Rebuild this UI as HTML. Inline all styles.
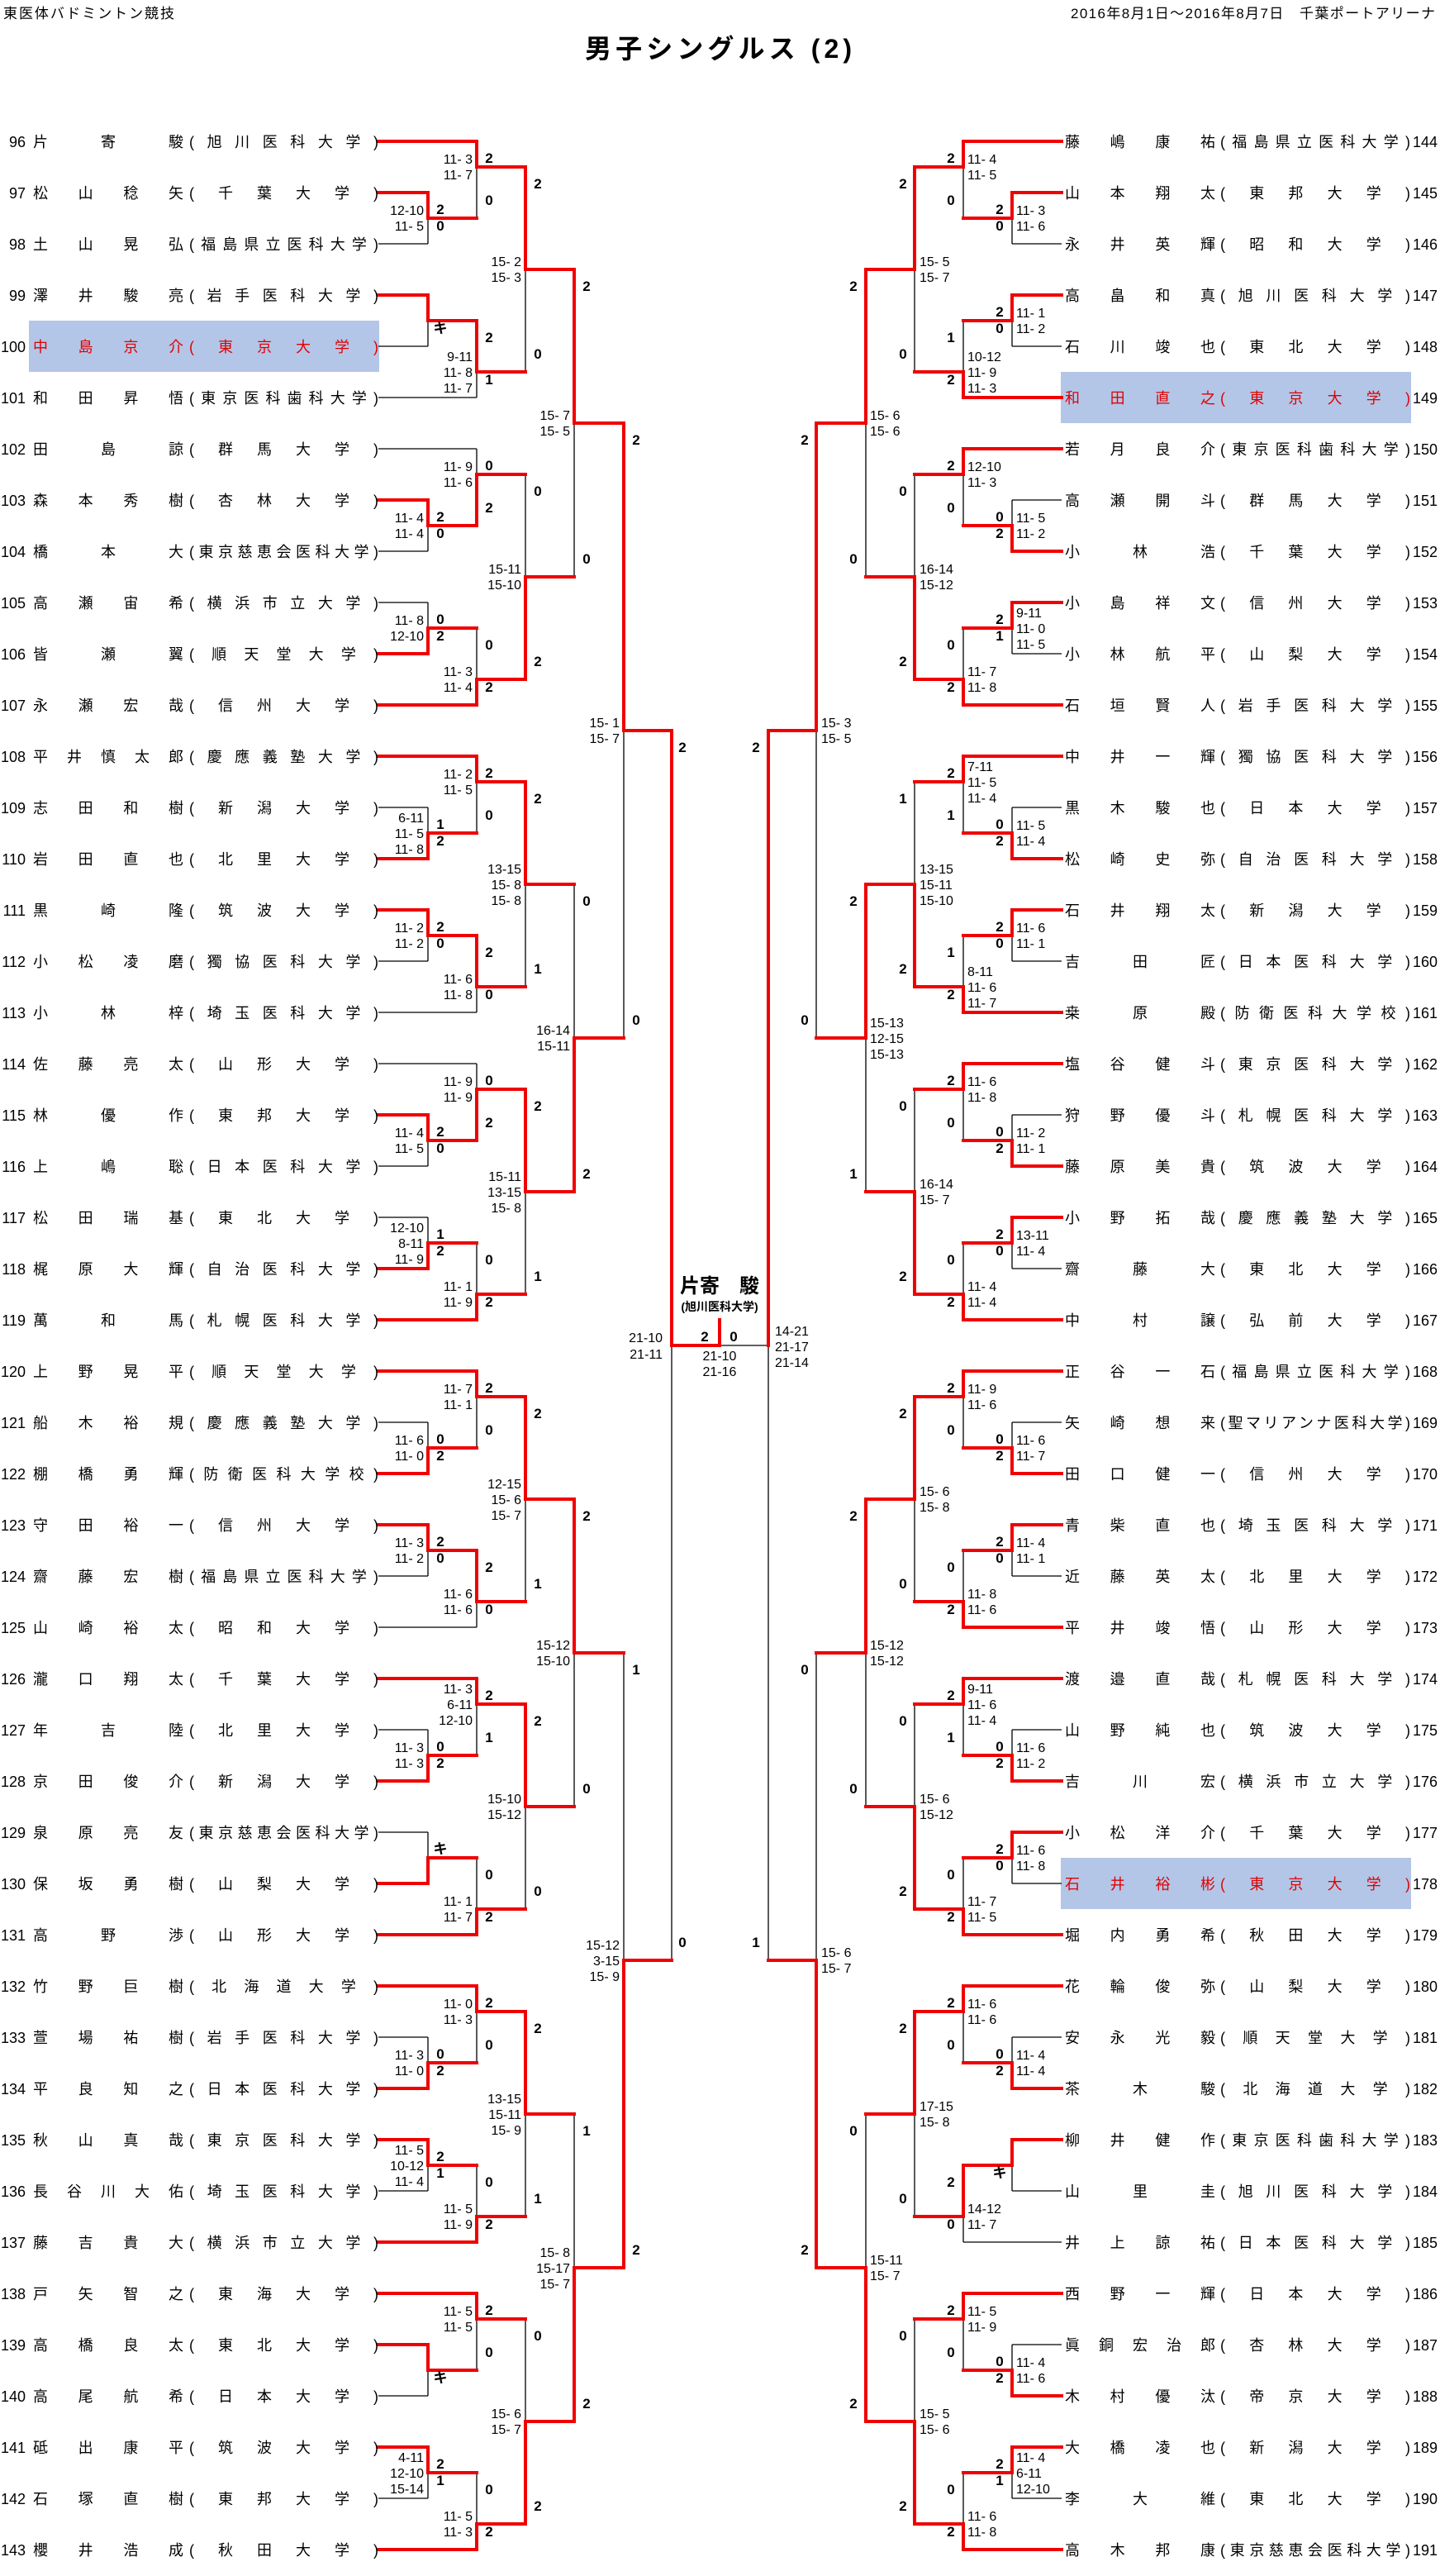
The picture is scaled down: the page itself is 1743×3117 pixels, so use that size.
<!DOCTYPE html>
<html><head><meta charset="utf-8"><style>
html,body{margin:0;padding:0;background:#fff}
svg{display:block}
.t{font-size:18px;font-family:"Liberation Sans","Noto Sans CJK JP",sans-serif;fill:#000}
.n{font-size:18px;font-family:"Liberation Sans",sans-serif;text-anchor:end}
.nr{font-size:18px;font-family:"Liberation Sans",sans-serif}
.r{fill:#e00000}
.c{font:bold 17px "Liberation Sans","Noto Sans CJK JP",sans-serif;text-anchor:middle}
.sl{font:16px "Liberation Sans",sans-serif;text-anchor:end}
.sr{font:16px "Liberation Sans",sans-serif}
.k{fill:none;stroke:#000;stroke-width:1.3}
.rd{fill:none;stroke:#f00000;stroke-width:4;stroke-linecap:square}
</style></head><body>
<svg width="1743" height="3117" viewBox="0 0 1743 3117" xmlns="http://www.w3.org/2000/svg">
<defs>
<path id="bk" d="M458 0H577M458 62H518M458 124H518M518 62V124M518 93H577M577 0V93M577 31H636M458 186H518M458 248H518M518 186V248M518 217H577M458 310H577M577 217V310M577 279H636M636 31V279M636 155H695"/>
<path id="hi" d="M695 326V698M695 1070V1442M695 1814V2186M695 2558V2930M695 512H755M695 1256H755M695 2000H755M695 2744H755M755 512V1256M755 2000V2744M755 884H813M755 2372H813M813 884V2372"/>
</defs>
<rect x="35" y="388" width="424" height="62" fill="#b4c6e7"/>
<rect x="1284" y="450" width="424" height="62" fill="#b4c6e7"/>
<rect x="1284" y="2248" width="424" height="62" fill="#b4c6e7"/>

<text x="4" y="22" class="t" style="font-size:17px" textLength="207">東医体バドミントン競技</text>
<text x="1296" y="22" class="t" style="font-size:17px" textLength="441">2016年8月1日～2016年8月7日　千葉ポートアリーナ</text>
<text x="708" y="70" class="t" style="font-size:32px;font-weight:bold" textLength="323">男子シングルス (2)</text>

<!-- black lines -->
<g class="k">
<use href="#bk" y="171"/><use href="#bk" y="543"/><use href="#bk" y="915"/><use href="#bk" y="1287"/>
<use href="#bk" y="1659"/><use href="#bk" y="2031"/><use href="#bk" y="2403"/><use href="#bk" y="2775"/>
<use href="#hi"/>
<g transform="translate(1743,0) scale(-1,1)">
<use href="#bk" y="171"/><use href="#bk" y="543"/><use href="#bk" y="915"/><use href="#bk" y="1287"/>
<use href="#bk" y="1659"/><use href="#bk" y="2031"/><use href="#bk" y="2403"/><use href="#bk" y="2775"/>
<use href="#hi"/>
</g>
<path d="M813 1628H930"/>
</g>

<!-- red lines left -->
<g class="rd">
<path transform="translate(0,171)" d="M458 62H518V93H577M458 0H577V31H636M458 186H518V217H577M577 217V279H636M636 31V155H695"/>
<path transform="translate(0,543)" d="M458 62H518V93H577M577 93V31H636M458 248H518V217H577M458 310H577V279H636M636 279V155H695"/>
<path transform="translate(0,915)" d="M458 124H518V93H577M458 0H577V31H636M458 186H518V217H577M577 217V279H636M636 31V155H695"/>
<path transform="translate(0,1287)" d="M458 62H518V93H577M577 93V31H636M458 248H518V217H577M458 310H577V279H636M636 31V155H695"/>
<path transform="translate(0,1659)" d="M458 124H518V93H577M458 0H577V31H636M458 186H518V217H577M577 217V279H636M636 31V155H695"/>
<path transform="translate(0,2031)" d="M458 124H518V93H577M458 0H577V31H636M458 248H518V217H577M458 310H577V279H636M636 31V155H695"/>
<path transform="translate(0,2403)" d="M458 124H518V93H577M458 0H577V31H636M458 186H518V217H577M458 310H577V279H636M636 31V155H695"/>
<path transform="translate(0,2775)" d="M458 62H518V93H577M458 0H577V31H636M458 186H518V217H577M458 310H577V279H636M636 279V155H695"/>
<path d="M695 326V512H755M695 1442V1256H755M695 1814V2000H755M695 2930V2744H755M755 512V884H813M755 2744V2372H813M813 884V1628H871V1597"/>
<g transform="translate(1743,0) scale(-1,1)">
<path transform="translate(0,171)" d="M458 62H518V93H577M458 0H577V31H636M458 186H518V217H577M458 310H577V279H636M636 31V155H695"/>
<path transform="translate(0,543)" d="M458 124H518V93H577M458 0H577V31H636M458 186H518V217H577M458 310H577V279H636M636 279V155H695"/>
<path transform="translate(0,915)" d="M458 124H518V93H577M458 0H577V31H636M458 186H518V217H577M458 310H577V279H636M636 279V155H695"/>
<path transform="translate(0,1287)" d="M458 124H518V93H577M458 0H577V31H636M458 186H518V217H577M458 310H577V279H636M636 279V155H695"/>
<path transform="translate(0,1659)" d="M458 124H518V93H577M458 0H577V31H636M458 186H518V217H577M458 310H577V279H636M636 31V155H695"/>
<path transform="translate(0,2031)" d="M458 124H518V93H577M458 0H577V31H636M458 186H518V217H577M458 310H577V279H636M636 279V155H695"/>
<path transform="translate(0,2403)" d="M458 124H518V93H577M458 0H577V31H636M458 186H518V217H577M577 217V279H636M636 31V155H695"/>
<path transform="translate(0,2775)" d="M458 124H518V93H577M458 0H577V31H636M458 186H518V217H577M458 310H577V279H636M636 279V155H695"/>
<path d="M695 326V512H755M695 1070V1256H755M695 1814V2000H755M695 2930V2744H755M755 512V884H813M755 2744V2372H813M813 884V1628"/>
</g>
</g>

<!-- left names -->
<g>
<text class="n" x="31" y="178">96</text><text class="t" x="40" y="178" textLength="182">片寄駿</text><text class="t" x="229" y="178" textLength="229">(旭川医科大学)</text>
<text class="n" x="31" y="240">97</text><text class="t" x="40" y="240" textLength="182">松山稔矢</text><text class="t" x="229" y="240" textLength="229">(千葉大学)</text>
<text class="n" x="31" y="302">98</text><text class="t" x="40" y="302" textLength="182">土山晃弘</text><text class="t" x="229" y="302" textLength="229">(福島県立医科大学)</text>
<text class="n" x="31" y="364">99</text><text class="t" x="40" y="364" textLength="182">澤井駿亮</text><text class="t" x="229" y="364" textLength="229">(岩手医科大学)</text>
<text class="n" x="31" y="426">100</text><text class="t r" x="40" y="426" textLength="182">中島京介</text><text class="t r" x="229" y="426" textLength="229">(東京大学)</text>
<text class="n" x="31" y="488">101</text><text class="t" x="40" y="488" textLength="182">和田昇悟</text><text class="t" x="229" y="488" textLength="229">(東京医科歯科大学)</text>
<text class="n" x="31" y="550">102</text><text class="t" x="40" y="550" textLength="182">田島諒</text><text class="t" x="229" y="550" textLength="229">(群馬大学)</text>
<text class="n" x="31" y="612">103</text><text class="t" x="40" y="612" textLength="182">森本秀樹</text><text class="t" x="229" y="612" textLength="229">(杏林大学)</text>
<text class="n" x="31" y="674">104</text><text class="t" x="40" y="674" textLength="182">橋本大</text><text class="t" x="229" y="674" textLength="229">(東京慈恵会医科大学)</text>
<text class="n" x="31" y="736">105</text><text class="t" x="40" y="736" textLength="182">高瀬宙希</text><text class="t" x="229" y="736" textLength="229">(横浜市立大学)</text>
<text class="n" x="31" y="798">106</text><text class="t" x="40" y="798" textLength="182">皆瀬翼</text><text class="t" x="229" y="798" textLength="229">(順天堂大学)</text>
<text class="n" x="31" y="860">107</text><text class="t" x="40" y="860" textLength="182">永瀬宏哉</text><text class="t" x="229" y="860" textLength="229">(信州大学)</text>
<text class="n" x="31" y="922">108</text><text class="t" x="40" y="922" textLength="182">平井慎太郎</text><text class="t" x="229" y="922" textLength="229">(慶應義塾大学)</text>
<text class="n" x="31" y="984">109</text><text class="t" x="40" y="984" textLength="182">志田和樹</text><text class="t" x="229" y="984" textLength="229">(新潟大学)</text>
<text class="n" x="31" y="1046">110</text><text class="t" x="40" y="1046" textLength="182">岩田直也</text><text class="t" x="229" y="1046" textLength="229">(北里大学)</text>
<text class="n" x="31" y="1108">111</text><text class="t" x="40" y="1108" textLength="182">黒崎隆</text><text class="t" x="229" y="1108" textLength="229">(筑波大学)</text>
<text class="n" x="31" y="1170">112</text><text class="t" x="40" y="1170" textLength="182">小松凌磨</text><text class="t" x="229" y="1170" textLength="229">(獨協医科大学)</text>
<text class="n" x="31" y="1232">113</text><text class="t" x="40" y="1232" textLength="182">小林梓</text><text class="t" x="229" y="1232" textLength="229">(埼玉医科大学)</text>
<text class="n" x="31" y="1294">114</text><text class="t" x="40" y="1294" textLength="182">佐藤亮太</text><text class="t" x="229" y="1294" textLength="229">(山形大学)</text>
<text class="n" x="31" y="1356">115</text><text class="t" x="40" y="1356" textLength="182">林優作</text><text class="t" x="229" y="1356" textLength="229">(東邦大学)</text>
<text class="n" x="31" y="1418">116</text><text class="t" x="40" y="1418" textLength="182">上嶋聡</text><text class="t" x="229" y="1418" textLength="229">(日本医科大学)</text>
<text class="n" x="31" y="1480">117</text><text class="t" x="40" y="1480" textLength="182">松田瑞基</text><text class="t" x="229" y="1480" textLength="229">(東北大学)</text>
<text class="n" x="31" y="1542">118</text><text class="t" x="40" y="1542" textLength="182">梶原大輝</text><text class="t" x="229" y="1542" textLength="229">(自治医科大学)</text>
<text class="n" x="31" y="1604">119</text><text class="t" x="40" y="1604" textLength="182">萬和馬</text><text class="t" x="229" y="1604" textLength="229">(札幌医科大学)</text>
<text class="n" x="31" y="1666">120</text><text class="t" x="40" y="1666" textLength="182">上野晃平</text><text class="t" x="229" y="1666" textLength="229">(順天堂大学)</text>
<text class="n" x="31" y="1728">121</text><text class="t" x="40" y="1728" textLength="182">船木裕規</text><text class="t" x="229" y="1728" textLength="229">(慶應義塾大学)</text>
<text class="n" x="31" y="1790">122</text><text class="t" x="40" y="1790" textLength="182">棚橋勇輝</text><text class="t" x="229" y="1790" textLength="229">(防衛医科大学校)</text>
<text class="n" x="31" y="1852">123</text><text class="t" x="40" y="1852" textLength="182">守田裕一</text><text class="t" x="229" y="1852" textLength="229">(信州大学)</text>
<text class="n" x="31" y="1914">124</text><text class="t" x="40" y="1914" textLength="182">齋藤宏樹</text><text class="t" x="229" y="1914" textLength="229">(福島県立医科大学)</text>
<text class="n" x="31" y="1976">125</text><text class="t" x="40" y="1976" textLength="182">山崎裕太</text><text class="t" x="229" y="1976" textLength="229">(昭和大学)</text>
<text class="n" x="31" y="2038">126</text><text class="t" x="40" y="2038" textLength="182">瀧口翔太</text><text class="t" x="229" y="2038" textLength="229">(千葉大学)</text>
<text class="n" x="31" y="2100">127</text><text class="t" x="40" y="2100" textLength="182">年吉陸</text><text class="t" x="229" y="2100" textLength="229">(北里大学)</text>
<text class="n" x="31" y="2162">128</text><text class="t" x="40" y="2162" textLength="182">京田俊介</text><text class="t" x="229" y="2162" textLength="229">(新潟大学)</text>
<text class="n" x="31" y="2224">129</text><text class="t" x="40" y="2224" textLength="182">泉原亮友</text><text class="t" x="229" y="2224" textLength="229">(東京慈恵会医科大学)</text>
<text class="n" x="31" y="2286">130</text><text class="t" x="40" y="2286" textLength="182">保坂勇樹</text><text class="t" x="229" y="2286" textLength="229">(山梨大学)</text>
<text class="n" x="31" y="2348">131</text><text class="t" x="40" y="2348" textLength="182">高野渉</text><text class="t" x="229" y="2348" textLength="229">(山形大学)</text>
<text class="n" x="31" y="2410">132</text><text class="t" x="40" y="2410" textLength="182">竹野巨樹</text><text class="t" x="229" y="2410" textLength="229">(北海道大学)</text>
<text class="n" x="31" y="2472">133</text><text class="t" x="40" y="2472" textLength="182">萱場祐樹</text><text class="t" x="229" y="2472" textLength="229">(岩手医科大学)</text>
<text class="n" x="31" y="2534">134</text><text class="t" x="40" y="2534" textLength="182">平良知之</text><text class="t" x="229" y="2534" textLength="229">(日本医科大学)</text>
<text class="n" x="31" y="2596">135</text><text class="t" x="40" y="2596" textLength="182">秋山真哉</text><text class="t" x="229" y="2596" textLength="229">(東京医科大学)</text>
<text class="n" x="31" y="2658">136</text><text class="t" x="40" y="2658" textLength="182">長谷川大佑</text><text class="t" x="229" y="2658" textLength="229">(埼玉医科大学)</text>
<text class="n" x="31" y="2720">137</text><text class="t" x="40" y="2720" textLength="182">藤吉貴大</text><text class="t" x="229" y="2720" textLength="229">(横浜市立大学)</text>
<text class="n" x="31" y="2782">138</text><text class="t" x="40" y="2782" textLength="182">戸矢智之</text><text class="t" x="229" y="2782" textLength="229">(東海大学)</text>
<text class="n" x="31" y="2844">139</text><text class="t" x="40" y="2844" textLength="182">高橋良太</text><text class="t" x="229" y="2844" textLength="229">(東北大学)</text>
<text class="n" x="31" y="2906">140</text><text class="t" x="40" y="2906" textLength="182">高尾航希</text><text class="t" x="229" y="2906" textLength="229">(日本大学)</text>
<text class="n" x="31" y="2968">141</text><text class="t" x="40" y="2968" textLength="182">砥出康平</text><text class="t" x="229" y="2968" textLength="229">(筑波大学)</text>
<text class="n" x="31" y="3030">142</text><text class="t" x="40" y="3030" textLength="182">石塚直樹</text><text class="t" x="229" y="3030" textLength="229">(東邦大学)</text>
<text class="n" x="31" y="3092">143</text><text class="t" x="40" y="3092" textLength="182">櫻井浩成</text><text class="t" x="229" y="3092" textLength="229">(秋田大学)</text>
</g>

<!-- right names -->
<g>
<text class="t" x="1289" y="178" textLength="182">藤嶋康祐</text><text class="t" x="1477" y="178" textLength="230">(福島県立医科大学)</text><text class="nr" x="1710" y="178">144</text>
<text class="t" x="1289" y="240" textLength="182">山本翔太</text><text class="t" x="1477" y="240" textLength="230">(東邦大学)</text><text class="nr" x="1710" y="240">145</text>
<text class="t" x="1289" y="302" textLength="182">永井英輝</text><text class="t" x="1477" y="302" textLength="230">(昭和大学)</text><text class="nr" x="1710" y="302">146</text>
<text class="t" x="1289" y="364" textLength="182">高畠和真</text><text class="t" x="1477" y="364" textLength="230">(旭川医科大学)</text><text class="nr" x="1710" y="364">147</text>
<text class="t" x="1289" y="426" textLength="182">石川竣也</text><text class="t" x="1477" y="426" textLength="230">(東北大学)</text><text class="nr" x="1710" y="426">148</text>
<text class="t r" x="1289" y="488" textLength="182">和田直之</text><text class="t r" x="1477" y="488" textLength="230">(東京大学)</text><text class="nr" x="1710" y="488">149</text>
<text class="t" x="1289" y="550" textLength="182">若月良介</text><text class="t" x="1477" y="550" textLength="230">(東京医科歯科大学)</text><text class="nr" x="1710" y="550">150</text>
<text class="t" x="1289" y="612" textLength="182">高瀬開斗</text><text class="t" x="1477" y="612" textLength="230">(群馬大学)</text><text class="nr" x="1710" y="612">151</text>
<text class="t" x="1289" y="674" textLength="182">小林浩</text><text class="t" x="1477" y="674" textLength="230">(千葉大学)</text><text class="nr" x="1710" y="674">152</text>
<text class="t" x="1289" y="736" textLength="182">小島祥文</text><text class="t" x="1477" y="736" textLength="230">(信州大学)</text><text class="nr" x="1710" y="736">153</text>
<text class="t" x="1289" y="798" textLength="182">小林航平</text><text class="t" x="1477" y="798" textLength="230">(山梨大学)</text><text class="nr" x="1710" y="798">154</text>
<text class="t" x="1289" y="860" textLength="182">石垣賢人</text><text class="t" x="1477" y="860" textLength="230">(岩手医科大学)</text><text class="nr" x="1710" y="860">155</text>
<text class="t" x="1289" y="922" textLength="182">中井一輝</text><text class="t" x="1477" y="922" textLength="230">(獨協医科大学)</text><text class="nr" x="1710" y="922">156</text>
<text class="t" x="1289" y="984" textLength="182">黒木駿也</text><text class="t" x="1477" y="984" textLength="230">(日本大学)</text><text class="nr" x="1710" y="984">157</text>
<text class="t" x="1289" y="1046" textLength="182">松崎史弥</text><text class="t" x="1477" y="1046" textLength="230">(自治医科大学)</text><text class="nr" x="1710" y="1046">158</text>
<text class="t" x="1289" y="1108" textLength="182">石井翔太</text><text class="t" x="1477" y="1108" textLength="230">(新潟大学)</text><text class="nr" x="1710" y="1108">159</text>
<text class="t" x="1289" y="1170" textLength="182">吉田匠</text><text class="t" x="1477" y="1170" textLength="230">(日本医科大学)</text><text class="nr" x="1710" y="1170">160</text>
<text class="t" x="1289" y="1232" textLength="182">桒原殿</text><text class="t" x="1477" y="1232" textLength="230">(防衛医科大学校)</text><text class="nr" x="1710" y="1232">161</text>
<text class="t" x="1289" y="1294" textLength="182">塩谷健斗</text><text class="t" x="1477" y="1294" textLength="230">(東京医科大学)</text><text class="nr" x="1710" y="1294">162</text>
<text class="t" x="1289" y="1356" textLength="182">狩野優斗</text><text class="t" x="1477" y="1356" textLength="230">(札幌医科大学)</text><text class="nr" x="1710" y="1356">163</text>
<text class="t" x="1289" y="1418" textLength="182">藤原美貴</text><text class="t" x="1477" y="1418" textLength="230">(筑波大学)</text><text class="nr" x="1710" y="1418">164</text>
<text class="t" x="1289" y="1480" textLength="182">小野拓哉</text><text class="t" x="1477" y="1480" textLength="230">(慶應義塾大学)</text><text class="nr" x="1710" y="1480">165</text>
<text class="t" x="1289" y="1542" textLength="182">齋藤大</text><text class="t" x="1477" y="1542" textLength="230">(東北大学)</text><text class="nr" x="1710" y="1542">166</text>
<text class="t" x="1289" y="1604" textLength="182">中村譲</text><text class="t" x="1477" y="1604" textLength="230">(弘前大学)</text><text class="nr" x="1710" y="1604">167</text>
<text class="t" x="1289" y="1666" textLength="182">正谷一石</text><text class="t" x="1477" y="1666" textLength="230">(福島県立医科大学)</text><text class="nr" x="1710" y="1666">168</text>
<text class="t" x="1289" y="1728" textLength="182">矢崎想来</text><text class="t" x="1477" y="1728" textLength="230">(聖マリアンナ医科大学)</text><text class="nr" x="1710" y="1728">169</text>
<text class="t" x="1289" y="1790" textLength="182">田口健一</text><text class="t" x="1477" y="1790" textLength="230">(信州大学)</text><text class="nr" x="1710" y="1790">170</text>
<text class="t" x="1289" y="1852" textLength="182">青柴直也</text><text class="t" x="1477" y="1852" textLength="230">(埼玉医科大学)</text><text class="nr" x="1710" y="1852">171</text>
<text class="t" x="1289" y="1914" textLength="182">近藤英太</text><text class="t" x="1477" y="1914" textLength="230">(北里大学)</text><text class="nr" x="1710" y="1914">172</text>
<text class="t" x="1289" y="1976" textLength="182">平井竣悟</text><text class="t" x="1477" y="1976" textLength="230">(山形大学)</text><text class="nr" x="1710" y="1976">173</text>
<text class="t" x="1289" y="2038" textLength="182">渡邉直哉</text><text class="t" x="1477" y="2038" textLength="230">(札幌医科大学)</text><text class="nr" x="1710" y="2038">174</text>
<text class="t" x="1289" y="2100" textLength="182">山野純也</text><text class="t" x="1477" y="2100" textLength="230">(筑波大学)</text><text class="nr" x="1710" y="2100">175</text>
<text class="t" x="1289" y="2162" textLength="182">吉川宏</text><text class="t" x="1477" y="2162" textLength="230">(横浜市立大学)</text><text class="nr" x="1710" y="2162">176</text>
<text class="t" x="1289" y="2224" textLength="182">小松洋介</text><text class="t" x="1477" y="2224" textLength="230">(千葉大学)</text><text class="nr" x="1710" y="2224">177</text>
<text class="t r" x="1289" y="2286" textLength="182">石井裕彬</text><text class="t r" x="1477" y="2286" textLength="230">(東京大学)</text><text class="nr" x="1710" y="2286">178</text>
<text class="t" x="1289" y="2348" textLength="182">堀内勇希</text><text class="t" x="1477" y="2348" textLength="230">(秋田大学)</text><text class="nr" x="1710" y="2348">179</text>
<text class="t" x="1289" y="2410" textLength="182">花輪俊弥</text><text class="t" x="1477" y="2410" textLength="230">(山梨大学)</text><text class="nr" x="1710" y="2410">180</text>
<text class="t" x="1289" y="2472" textLength="182">安永光毅</text><text class="t" x="1477" y="2472" textLength="230">(順天堂大学)</text><text class="nr" x="1710" y="2472">181</text>
<text class="t" x="1289" y="2534" textLength="182">茶木駿</text><text class="t" x="1477" y="2534" textLength="230">(北海道大学)</text><text class="nr" x="1710" y="2534">182</text>
<text class="t" x="1289" y="2596" textLength="182">柳井健作</text><text class="t" x="1477" y="2596" textLength="230">(東京医科歯科大学)</text><text class="nr" x="1710" y="2596">183</text>
<text class="t" x="1289" y="2658" textLength="182">山里圭</text><text class="t" x="1477" y="2658" textLength="230">(旭川医科大学)</text><text class="nr" x="1710" y="2658">184</text>
<text class="t" x="1289" y="2720" textLength="182">井上諒祐</text><text class="t" x="1477" y="2720" textLength="230">(日本医科大学)</text><text class="nr" x="1710" y="2720">185</text>
<text class="t" x="1289" y="2782" textLength="182">西野一輝</text><text class="t" x="1477" y="2782" textLength="230">(日本大学)</text><text class="nr" x="1710" y="2782">186</text>
<text class="t" x="1289" y="2844" textLength="182">眞銅宏治郎</text><text class="t" x="1477" y="2844" textLength="230">(杏林大学)</text><text class="nr" x="1710" y="2844">187</text>
<text class="t" x="1289" y="2906" textLength="182">木村優汰</text><text class="t" x="1477" y="2906" textLength="230">(帝京大学)</text><text class="nr" x="1710" y="2906">188</text>
<text class="t" x="1289" y="2968" textLength="182">大橋凌也</text><text class="t" x="1477" y="2968" textLength="230">(新潟大学)</text><text class="nr" x="1710" y="2968">189</text>
<text class="t" x="1289" y="3030" textLength="182">李大維</text><text class="t" x="1477" y="3030" textLength="230">(東北大学)</text><text class="nr" x="1710" y="3030">190</text>
<text class="t" x="1289" y="3092" textLength="182">高木邦康</text><text class="t" x="1477" y="3092" textLength="230">(東京慈恵会医科大学)</text><text class="nr" x="1710" y="3092">191</text>
</g>

<!-- LEFT scores -->
<g transform="translate(0,171)">
<text class="c" x="533" y="88">2</text><text class="c" x="533" y="108">0</text><text class="sl" x="513" y="89">12-10</text><text class="sl" x="513" y="108">11- 5</text>
<text class="c" x="592" y="26">2</text><text class="c" x="592" y="77">0</text><text class="sl" x="572" y="27">11- 3</text><text class="sl" x="572" y="46">11- 7</text>
<text class="c" x="533" y="232">キ</text>
<text class="c" x="592" y="243">2</text><text class="c" x="592" y="294">1</text><text class="sl" x="572" y="266">9-11</text><text class="sl" x="572" y="285">11- 8</text><text class="sl" x="572" y="304">11- 7</text>
<text class="c" x="651" y="57">2</text><text class="c" x="651" y="263">0</text><text class="sl" x="631" y="151">15- 2</text><text class="sl" x="631" y="170">15- 3</text>
</g>
<g transform="translate(0,543)">
<text class="c" x="533" y="88">2</text><text class="c" x="533" y="108">0</text><text class="sl" x="513" y="89">11- 4</text><text class="sl" x="513" y="108">11- 4</text>
<text class="c" x="592" y="26">0</text><text class="c" x="592" y="77">2</text><text class="sl" x="572" y="27">11- 9</text><text class="sl" x="572" y="46">11- 6</text>
<text class="c" x="533" y="212">0</text><text class="c" x="533" y="232">2</text><text class="sl" x="513" y="213">11- 8</text><text class="sl" x="513" y="232">12-10</text>
<text class="c" x="592" y="243">0</text><text class="c" x="592" y="294">2</text><text class="sl" x="572" y="275">11- 3</text><text class="sl" x="572" y="294">11- 4</text>
<text class="c" x="651" y="57">0</text><text class="c" x="651" y="263">2</text><text class="sl" x="631" y="151">15-11</text><text class="sl" x="631" y="170">15-10</text>
</g>
<g transform="translate(0,915)">
<text class="c" x="533" y="88">1</text><text class="c" x="533" y="108">2</text><text class="sl" x="513" y="80">6-11</text><text class="sl" x="513" y="99">11- 5</text><text class="sl" x="513" y="118">11- 8</text>
<text class="c" x="592" y="26">2</text><text class="c" x="592" y="77">0</text><text class="sl" x="572" y="27">11- 2</text><text class="sl" x="572" y="46">11- 5</text>
<text class="c" x="533" y="212">2</text><text class="c" x="533" y="232">0</text><text class="sl" x="513" y="213">11- 2</text><text class="sl" x="513" y="232">11- 2</text>
<text class="c" x="592" y="243">2</text><text class="c" x="592" y="294">0</text><text class="sl" x="572" y="275">11- 6</text><text class="sl" x="572" y="294">11- 8</text>
<text class="c" x="651" y="57">2</text><text class="c" x="651" y="263">1</text><text class="sl" x="631" y="142">13-15</text><text class="sl" x="631" y="161">15- 8</text><text class="sl" x="631" y="180">15- 8</text>
</g>
<g transform="translate(0,1287)">
<text class="c" x="533" y="88">2</text><text class="c" x="533" y="108">0</text><text class="sl" x="513" y="89">11- 4</text><text class="sl" x="513" y="108">11- 5</text>
<text class="c" x="592" y="26">0</text><text class="c" x="592" y="77">2</text><text class="sl" x="572" y="27">11- 9</text><text class="sl" x="572" y="46">11- 9</text>
<text class="c" x="533" y="212">1</text><text class="c" x="533" y="232">2</text><text class="sl" x="513" y="204">12-10</text><text class="sl" x="513" y="223">8-11</text><text class="sl" x="513" y="242">11- 9</text>
<text class="c" x="592" y="243">0</text><text class="c" x="592" y="294">2</text><text class="sl" x="572" y="275">11- 1</text><text class="sl" x="572" y="294">11- 9</text>
<text class="c" x="651" y="57">2</text><text class="c" x="651" y="263">1</text><text class="sl" x="631" y="142">15-11</text><text class="sl" x="631" y="161">13-15</text><text class="sl" x="631" y="180">15- 8</text>
</g>
<g transform="translate(0,1659)">
<text class="c" x="533" y="88">0</text><text class="c" x="533" y="108">2</text><text class="sl" x="513" y="89">11- 6</text><text class="sl" x="513" y="108">11- 0</text>
<text class="c" x="592" y="26">2</text><text class="c" x="592" y="77">0</text><text class="sl" x="572" y="27">11- 7</text><text class="sl" x="572" y="46">11- 1</text>
<text class="c" x="533" y="212">2</text><text class="c" x="533" y="232">0</text><text class="sl" x="513" y="213">11- 3</text><text class="sl" x="513" y="232">11- 2</text>
<text class="c" x="592" y="243">2</text><text class="c" x="592" y="294">0</text><text class="sl" x="572" y="275">11- 6</text><text class="sl" x="572" y="294">11- 6</text>
<text class="c" x="651" y="57">2</text><text class="c" x="651" y="263">1</text><text class="sl" x="631" y="142">12-15</text><text class="sl" x="631" y="161">15- 6</text><text class="sl" x="631" y="180">15- 7</text>
</g>
<g transform="translate(0,2031)">
<text class="c" x="533" y="88">0</text><text class="c" x="533" y="108">2</text><text class="sl" x="513" y="89">11- 3</text><text class="sl" x="513" y="108">11- 3</text>
<text class="c" x="592" y="26">2</text><text class="c" x="592" y="77">1</text><text class="sl" x="572" y="18">11- 3</text><text class="sl" x="572" y="37">6-11</text><text class="sl" x="572" y="56">12-10</text>
<text class="c" x="533" y="212">キ</text>
<text class="c" x="592" y="243">0</text><text class="c" x="592" y="294">2</text><text class="sl" x="572" y="275">11- 1</text><text class="sl" x="572" y="294">11- 7</text>
<text class="c" x="651" y="57">2</text><text class="c" x="651" y="263">0</text><text class="sl" x="631" y="151">15-10</text><text class="sl" x="631" y="170">15-12</text>
</g>
<g transform="translate(0,2403)">
<text class="c" x="533" y="88">0</text><text class="c" x="533" y="108">2</text><text class="sl" x="513" y="89">11- 3</text><text class="sl" x="513" y="108">11- 0</text>
<text class="c" x="592" y="26">2</text><text class="c" x="592" y="77">0</text><text class="sl" x="572" y="27">11- 0</text><text class="sl" x="572" y="46">11- 3</text>
<text class="c" x="533" y="212">2</text><text class="c" x="533" y="232">1</text><text class="sl" x="513" y="204">11- 5</text><text class="sl" x="513" y="223">10-12</text><text class="sl" x="513" y="242">11- 4</text>
<text class="c" x="592" y="243">0</text><text class="c" x="592" y="294">2</text><text class="sl" x="572" y="275">11- 5</text><text class="sl" x="572" y="294">11- 9</text>
<text class="c" x="651" y="57">2</text><text class="c" x="651" y="263">1</text><text class="sl" x="631" y="142">13-15</text><text class="sl" x="631" y="161">15-11</text><text class="sl" x="631" y="180">15- 9</text>
</g>
<g transform="translate(0,2775)">
<text class="c" x="533" y="108">キ</text>
<text class="c" x="592" y="26">2</text><text class="c" x="592" y="77">0</text><text class="sl" x="572" y="27">11- 5</text><text class="sl" x="572" y="46">11- 5</text>
<text class="c" x="533" y="212">2</text><text class="c" x="533" y="232">1</text><text class="sl" x="513" y="204">4-11</text><text class="sl" x="513" y="223">12-10</text><text class="sl" x="513" y="242">15-14</text>
<text class="c" x="592" y="243">0</text><text class="c" x="592" y="294">2</text><text class="sl" x="572" y="275">11- 5</text><text class="sl" x="572" y="294">11- 3</text>
<text class="c" x="651" y="57">0</text><text class="c" x="651" y="263">2</text><text class="sl" x="631" y="151">15- 6</text><text class="sl" x="631" y="170">15- 7</text>
</g>
<!-- left higher -->
<text class="c" x="710" y="352">2</text><text class="c" x="710" y="682">0</text><text class="sl" x="690" y="508">15- 7</text><text class="sl" x="690" y="527">15- 5</text>
<text class="c" x="710" y="1096">0</text><text class="c" x="710" y="1426">2</text><text class="sl" x="690" y="1252">16-14</text><text class="sl" x="690" y="1271">15-11</text>
<text class="c" x="710" y="1840">2</text><text class="c" x="710" y="2170">0</text><text class="sl" x="690" y="1996">15-12</text><text class="sl" x="690" y="2015">15-10</text>
<text class="c" x="710" y="2584">1</text><text class="c" x="710" y="2914">2</text><text class="sl" x="690" y="2731">15- 8</text><text class="sl" x="690" y="2750">15-17</text><text class="sl" x="690" y="2769">15- 7</text>
<text class="c" x="770" y="538">2</text><text class="c" x="770" y="1240">0</text><text class="sl" x="750" y="880">15- 1</text><text class="sl" x="750" y="899">15- 7</text>
<text class="c" x="770" y="2026">1</text><text class="c" x="770" y="2728">2</text><text class="sl" x="750" y="2359">15-12</text><text class="sl" x="750" y="2378">3-15</text><text class="sl" x="750" y="2397">15- 9</text>
<text class="c" x="826" y="910">2</text><text class="c" x="826" y="2356">0</text><text class="sl" x="802" y="1624">21-10</text><text class="sl" x="802" y="1644">21-11</text>

<!-- RIGHT scores -->
<g transform="translate(0,171)">
<text class="c" x="1210" y="88">2</text><text class="c" x="1210" y="108">0</text><text class="sr" x="1230" y="89">11- 3</text><text class="sr" x="1230" y="108">11- 6</text>
<text class="c" x="1151" y="26">2</text><text class="c" x="1151" y="77">0</text><text class="sr" x="1171" y="27">11- 4</text><text class="sr" x="1171" y="46">11- 5</text>
<text class="c" x="1210" y="212">2</text><text class="c" x="1210" y="232">0</text><text class="sr" x="1230" y="213">11- 1</text><text class="sr" x="1230" y="232">11- 2</text>
<text class="c" x="1151" y="243">1</text><text class="c" x="1151" y="294">2</text><text class="sr" x="1171" y="266">10-12</text><text class="sr" x="1171" y="285">11- 9</text><text class="sr" x="1171" y="304">11- 3</text>
<text class="c" x="1093" y="57">2</text><text class="c" x="1093" y="263">0</text><text class="sr" x="1113" y="151">15- 5</text><text class="sr" x="1113" y="170">15- 7</text>
</g>
<g transform="translate(0,543)">
<text class="c" x="1210" y="88">0</text><text class="c" x="1210" y="108">2</text><text class="sr" x="1230" y="89">11- 5</text><text class="sr" x="1230" y="108">11- 2</text>
<text class="c" x="1151" y="26">2</text><text class="c" x="1151" y="77">0</text><text class="sr" x="1171" y="27">12-10</text><text class="sr" x="1171" y="46">11- 3</text>
<text class="c" x="1210" y="212">2</text><text class="c" x="1210" y="232">1</text><text class="sr" x="1230" y="204">9-11</text><text class="sr" x="1230" y="223">11- 0</text><text class="sr" x="1230" y="242">11- 5</text>
<text class="c" x="1151" y="243">0</text><text class="c" x="1151" y="294">2</text><text class="sr" x="1171" y="275">11- 7</text><text class="sr" x="1171" y="294">11- 8</text>
<text class="c" x="1093" y="57">0</text><text class="c" x="1093" y="263">2</text><text class="sr" x="1113" y="151">16-14</text><text class="sr" x="1113" y="170">15-12</text>
</g>
<g transform="translate(0,915)">
<text class="c" x="1210" y="88">0</text><text class="c" x="1210" y="108">2</text><text class="sr" x="1230" y="89">11- 5</text><text class="sr" x="1230" y="108">11- 4</text>
<text class="c" x="1151" y="26">2</text><text class="c" x="1151" y="77">1</text><text class="sr" x="1171" y="18">7-11</text><text class="sr" x="1171" y="37">11- 5</text><text class="sr" x="1171" y="56">11- 4</text>
<text class="c" x="1210" y="212">2</text><text class="c" x="1210" y="232">0</text><text class="sr" x="1230" y="213">11- 6</text><text class="sr" x="1230" y="232">11- 1</text>
<text class="c" x="1151" y="243">1</text><text class="c" x="1151" y="294">2</text><text class="sr" x="1171" y="266">8-11</text><text class="sr" x="1171" y="285">11- 6</text><text class="sr" x="1171" y="304">11- 7</text>
<text class="c" x="1093" y="57">1</text><text class="c" x="1093" y="263">2</text><text class="sr" x="1113" y="142">13-15</text><text class="sr" x="1113" y="161">15-11</text><text class="sr" x="1113" y="180">15-10</text>
</g>
<g transform="translate(0,1287)">
<text class="c" x="1210" y="88">0</text><text class="c" x="1210" y="108">2</text><text class="sr" x="1230" y="89">11- 2</text><text class="sr" x="1230" y="108">11- 1</text>
<text class="c" x="1151" y="26">2</text><text class="c" x="1151" y="77">0</text><text class="sr" x="1171" y="27">11- 6</text><text class="sr" x="1171" y="46">11- 8</text>
<text class="c" x="1210" y="212">2</text><text class="c" x="1210" y="232">0</text><text class="sr" x="1230" y="213">13-11</text><text class="sr" x="1230" y="232">11- 4</text>
<text class="c" x="1151" y="243">0</text><text class="c" x="1151" y="294">2</text><text class="sr" x="1171" y="275">11- 4</text><text class="sr" x="1171" y="294">11- 4</text>
<text class="c" x="1093" y="57">0</text><text class="c" x="1093" y="263">2</text><text class="sr" x="1113" y="151">16-14</text><text class="sr" x="1113" y="170">15- 7</text>
</g>
<g transform="translate(0,1659)">
<text class="c" x="1210" y="88">0</text><text class="c" x="1210" y="108">2</text><text class="sr" x="1230" y="89">11- 6</text><text class="sr" x="1230" y="108">11- 7</text>
<text class="c" x="1151" y="26">2</text><text class="c" x="1151" y="77">0</text><text class="sr" x="1171" y="27">11- 9</text><text class="sr" x="1171" y="46">11- 6</text>
<text class="c" x="1210" y="212">2</text><text class="c" x="1210" y="232">0</text><text class="sr" x="1230" y="213">11- 4</text><text class="sr" x="1230" y="232">11- 1</text>
<text class="c" x="1151" y="243">0</text><text class="c" x="1151" y="294">2</text><text class="sr" x="1171" y="275">11- 8</text><text class="sr" x="1171" y="294">11- 6</text>
<text class="c" x="1093" y="57">2</text><text class="c" x="1093" y="263">0</text><text class="sr" x="1113" y="151">15- 6</text><text class="sr" x="1113" y="170">15- 8</text>
</g>
<g transform="translate(0,2031)">
<text class="c" x="1210" y="88">0</text><text class="c" x="1210" y="108">2</text><text class="sr" x="1230" y="89">11- 6</text><text class="sr" x="1230" y="108">11- 2</text>
<text class="c" x="1151" y="26">2</text><text class="c" x="1151" y="77">1</text><text class="sr" x="1171" y="18">9-11</text><text class="sr" x="1171" y="37">11- 6</text><text class="sr" x="1171" y="56">11- 4</text>
<text class="c" x="1210" y="212">2</text><text class="c" x="1210" y="232">0</text><text class="sr" x="1230" y="213">11- 6</text><text class="sr" x="1230" y="232">11- 8</text>
<text class="c" x="1151" y="243">0</text><text class="c" x="1151" y="294">2</text><text class="sr" x="1171" y="275">11- 7</text><text class="sr" x="1171" y="294">11- 5</text>
<text class="c" x="1093" y="57">0</text><text class="c" x="1093" y="263">2</text><text class="sr" x="1113" y="151">15- 6</text><text class="sr" x="1113" y="170">15-12</text>
</g>
<g transform="translate(0,2403)">
<text class="c" x="1210" y="88">0</text><text class="c" x="1210" y="108">2</text><text class="sr" x="1230" y="89">11- 4</text><text class="sr" x="1230" y="108">11- 4</text>
<text class="c" x="1151" y="26">2</text><text class="c" x="1151" y="77">0</text><text class="sr" x="1171" y="27">11- 6</text><text class="sr" x="1171" y="46">11- 6</text>
<text class="c" x="1210" y="232">キ</text>
<text class="c" x="1151" y="243">2</text><text class="c" x="1151" y="294">0</text><text class="sr" x="1171" y="275">14-12</text><text class="sr" x="1171" y="294">11- 7</text>
<text class="c" x="1093" y="57">2</text><text class="c" x="1093" y="263">0</text><text class="sr" x="1113" y="151">17-15</text><text class="sr" x="1113" y="170">15- 8</text>
</g>
<g transform="translate(0,2775)">
<text class="c" x="1210" y="88">0</text><text class="c" x="1210" y="108">2</text><text class="sr" x="1230" y="89">11- 4</text><text class="sr" x="1230" y="108">11- 6</text>
<text class="c" x="1151" y="26">2</text><text class="c" x="1151" y="77">0</text><text class="sr" x="1171" y="27">11- 5</text><text class="sr" x="1171" y="46">11- 9</text>
<text class="c" x="1210" y="212">2</text><text class="c" x="1210" y="232">1</text><text class="sr" x="1230" y="204">11- 4</text><text class="sr" x="1230" y="223">6-11</text><text class="sr" x="1230" y="242">12-10</text>
<text class="c" x="1151" y="243">0</text><text class="c" x="1151" y="294">2</text><text class="sr" x="1171" y="275">11- 6</text><text class="sr" x="1171" y="294">11- 8</text>
<text class="c" x="1093" y="57">0</text><text class="c" x="1093" y="263">2</text><text class="sr" x="1113" y="151">15- 5</text><text class="sr" x="1113" y="170">15- 6</text>
</g>
<!-- right higher -->
<text class="c" x="1033" y="352">2</text><text class="c" x="1033" y="682">0</text><text class="sr" x="1053" y="508">15- 6</text><text class="sr" x="1053" y="527">15- 6</text>
<text class="c" x="1033" y="1096">2</text><text class="c" x="1033" y="1426">1</text><text class="sr" x="1053" y="1243">15-13</text><text class="sr" x="1053" y="1262">12-15</text><text class="sr" x="1053" y="1281">15-13</text>
<text class="c" x="1033" y="1840">2</text><text class="c" x="1033" y="2170">0</text><text class="sr" x="1053" y="1996">15-12</text><text class="sr" x="1053" y="2015">15-12</text>
<text class="c" x="1033" y="2584">0</text><text class="c" x="1033" y="2914">2</text><text class="sr" x="1053" y="2740">15-11</text><text class="sr" x="1053" y="2759">15- 7</text>
<text class="c" x="974" y="538">2</text><text class="c" x="974" y="1240">0</text><text class="sr" x="994" y="880">15- 3</text><text class="sr" x="994" y="899">15- 5</text>
<text class="c" x="974" y="2026">0</text><text class="c" x="974" y="2728">2</text><text class="sr" x="994" y="2368">15- 6</text><text class="sr" x="994" y="2387">15- 7</text>
<text class="c" x="915" y="910">2</text><text class="c" x="915" y="2356">1</text><text class="sr" x="938" y="1616">14-21</text><text class="sr" x="938" y="1635">21-17</text><text class="sr" x="938" y="1654">21-14</text>

<!-- final -->
<text x="871" y="1564" text-anchor="middle" style="font:bold 24px 'Liberation Sans','Noto Sans CJK JP',sans-serif">片寄　駿</text>
<text x="871" y="1586" text-anchor="middle" style="font:bold 14px 'Liberation Sans','Noto Sans CJK JP',sans-serif">(旭川医科大学)</text>
<text class="c" x="853" y="1623">2</text><text class="c" x="888" y="1623">0</text>
<text x="871" y="1646" text-anchor="middle" class="sr">21-10</text>
<text x="871" y="1665" text-anchor="middle" class="sr">21-16</text>
</svg>
</body></html>
